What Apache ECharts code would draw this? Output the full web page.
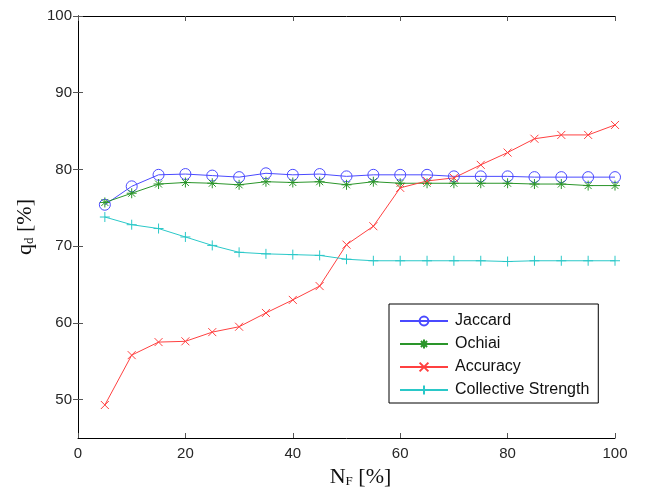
<!DOCTYPE html>
<html>
<head>
<meta charset="utf-8">
<script src="https://cdn.jsdelivr.net/npm/echarts@6/dist/echarts.min.js"></script>
<style>
html,body{margin:0;padding:0;background:#fff;}
#chart{width:645px;height:493px;}
</style>
</head>
<body>
<div id="chart"></div>
<script>
var nf = [5,10,15,20,25,30,35,40,45,50,55,60,65,70,75,80,85,90,95,100];
var jaccard = [75.4,77.8,79.3,79.4,79.2,79.0,79.5,79.3,79.4,79.1,79.3,79.3,79.3,79.1,79.1,79.1,79.0,79.0,79.0,79.0];
var ochiai = [75.7,76.9,78.1,78.3,78.2,78.0,78.4,78.3,78.4,78.0,78.4,78.2,78.2,78.2,78.2,78.2,78.1,78.1,77.9,77.9];
var accuracy = [49.3,55.8,57.5,57.6,58.8,59.5,61.3,63.0,64.8,70.2,72.6,77.6,78.5,78.9,80.6,82.2,84.0,84.5,84.5,85.8];
var collective = [73.8,72.8,72.3,71.2,70.1,69.2,69.0,68.9,68.8,68.3,68.1,68.1,68.1,68.1,68.1,68.0,68.1,68.1,68.1,68.1];
var seriesNames = ['Jaccard','Ochiai','Accuracy','Collective Strength'];
var yTicks = [50,60,70,80,90,100];
var xTicks = [0,20,40,60,80,100];

function pairs(xs, ys){ return xs.map(function(x,i){ return [x, ys[i]]; }); }

var chart = echarts.init(document.getElementById('chart'), null, {renderer:'canvas'});
var tickStyle = {color:'#555', width:1};
var labelStyle = {color:'#262626', fontSize:15, fontFamily:'Liberation Sans, Arial, sans-serif'};
function mkSeries(name, data, color, symbol, size, fill){
  return {
    name: name, type:'line', data: pairs(nf, data),
    symbol: symbol, symbolSize: size, showAllSymbol:true,
    lineStyle:{color:color, width:1},
    itemStyle:{color: fill || color, borderColor:color, borderWidth:1},
    emphasis:{disabled:true}, animation:false
  };
}
var option = {
  animation:false,
  grid:{left:78, right:30, top:16, bottom:55, containLabel:false},
  xAxis:[{
    type:'value', min:0, max:100, interval:20,
    axisLine:{show:true, lineStyle:{color:'#000', width:1}},
    axisTick:{show:true, inside:true, length:5, lineStyle:tickStyle, customValues: xTicks},
    axisLabel:Object.assign({margin:8, customValues: xTicks}, labelStyle),
    splitLine:{show:false},
    name:'N{s|F} [%]', nameLocation:'middle', nameGap:28,
    nameTextStyle:{fontFamily:'Liberation Serif, Times New Roman, serif', fontSize:22, color:'#111', padding:[0,0,0,28],
      rich:{s:{fontFamily:'Liberation Serif, serif', fontSize:13, verticalAlign:'bottom', padding:[8,0,0,0], color:'#111'}}}
  },{
    type:'value', position:'top', min:0, max:100, interval:20,
    axisLine:{show:true, lineStyle:{color:'#000', width:1}},
    axisTick:{show:true, inside:true, length:5, lineStyle:tickStyle, customValues: xTicks},
    axisLabel:{show:false}, splitLine:{show:false}
  }],
  yAxis:[{
    type:'value', min:45, max:100,
    axisLine:{show:true, lineStyle:{color:'#000', width:1}},
    axisTick:{show:true, inside:true, length:5, lineStyle:tickStyle, customValues: yTicks},
    axisLabel:Object.assign({margin:6, customValues: yTicks}, labelStyle),
    splitLine:{show:false},
    name:'q{s|d} [%]', nameLocation:'middle', nameGap:36, nameRotate:90,
    nameTextStyle:{fontFamily:'Liberation Serif, Times New Roman, serif', fontSize:22, color:'#111',
      rich:{s:{fontFamily:'Liberation Serif, serif', fontSize:13, verticalAlign:'bottom', padding:[8,0,0,0], color:'#111'}}}
  },{
    type:'value', position:'right', min:45, max:100,
    axisLine:{show:true, lineStyle:{color:'#000', width:1}},
    axisTick:{show:true, inside:true, length:5, lineStyle:tickStyle, customValues: yTicks},
    axisLabel:{show:false}, splitLine:{show:false}
  }],
  legend:{
    orient:'vertical', left:389, top:304,
    data: seriesNames,
    backgroundColor:'#fff', borderColor:'#000', borderWidth:1, borderRadius:0,
    padding:[9,9,5,10], itemGap:7, itemWidth:48, itemHeight:11,
    textStyle:{color:'#111', fontSize:16, fontFamily:'Liberation Sans, Arial, sans-serif', padding:[0,0,0,2]},
    selectedMode:false
  },
  series:[
    mkSeries(seriesNames[0], jaccard, '#4a4aff', 'path://M10,5A5,5 0 1 1 0,5A5,5 0 1 1 10,5Z', 11, 'rgba(255,255,255,0)'),
    mkSeries(seriesNames[1], ochiai, '#2a952a', 'path://M5,0L5,10M0,5L10,5M1.5,1.5L8.5,8.5M8.5,1.5L1.5,8.5', 10),
    mkSeries(seriesNames[2], accuracy, '#ff4040', 'path://M0,0L10,10M10,0L0,10', 8),
    mkSeries(seriesNames[3], collective, '#2ac8c8', 'path://M5,0L5,10M0,5L10,5', 10)
  ]
};
chart.setOption(option);
</script>
</body>
</html>
